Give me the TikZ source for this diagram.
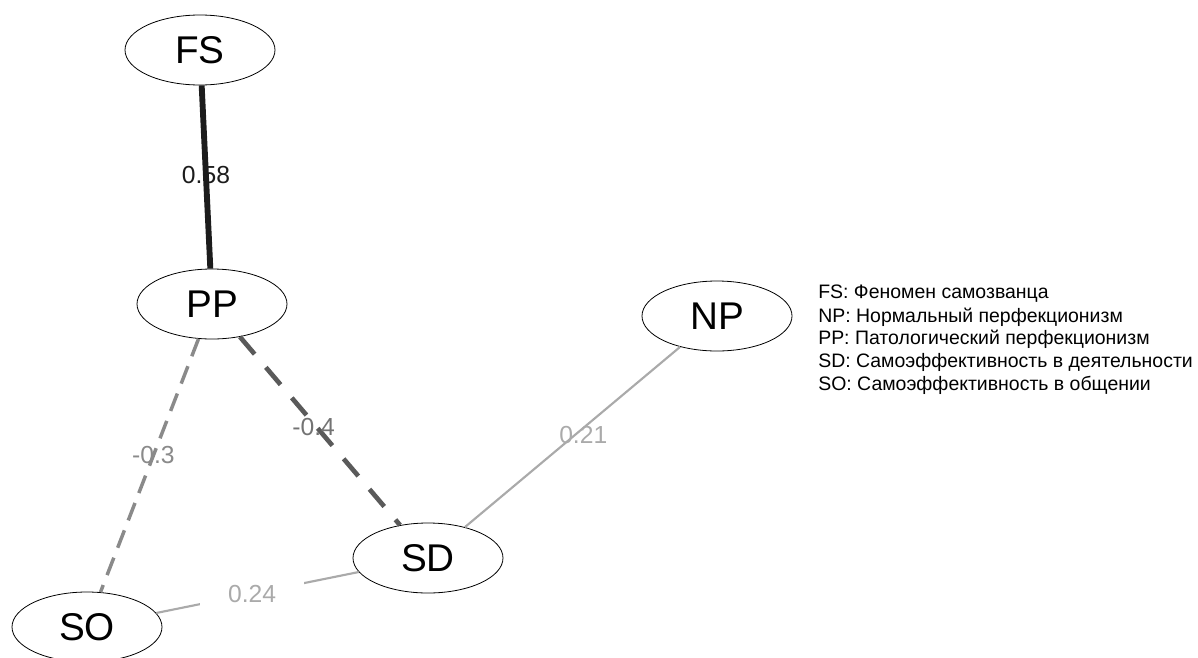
\documentclass[tikz,border=0pt]{standalone}
\usepackage{fontspec}
\setmainfont{Liberation Sans}
\usetikzlibrary{shapes.geometric}
\definecolor{strong}{RGB}{28,28,28}
\definecolor{negdark}{RGB}{90,90,90}
\definecolor{negmid}{RGB}{138,138,138}
\definecolor{weak}{RGB}{170,170,170}
\tikzset{
  qnode/.style={ellipse,draw=black,line width=0.6pt,minimum width=112.5pt,
    minimum height=52.5pt,inner sep=0pt,font=\fontsize{29}{32}\selectfont},
  qstrong/.style={strong,line width=4.4pt},
  qnegA/.style={negdark,line width=3.5pt,dash pattern=on 17pt off 13pt},
  qnegB/.style={negmid,line width=2.6pt,dash pattern=on 14pt off 8pt},
  qweak/.style={weak,line width=1.6pt},
  qlab/.style={font=\fontsize{18.5}{20}\selectfont,inner sep=1pt},
}
\begin{document}
\begin{tikzpicture}[x=0.75pt,y=-0.75pt]
  \useasboundingbox (0,0) rectangle (1198,657);
  \node[qnode] (FS) at (200,50) {FS};
  \node[qnode] (PP) at (212,304) {PP};
  \node[qnode] (NP) at (717,316) {NP};
  \node[qnode] (SD) at (428,558) {SD};
  \node[qnode] (SO) at (87,627) {SO};
  \draw[qstrong] (FS) -- node[qlab,text=strong,yshift=1.5pt] (l58) {0.58} (PP);
  \draw[qnegB] (PP) -- node[qlab,text=negmid,pos=0.46] (l30) {-0.3} (SO);
  \draw[qnegA] (PP) -- node[qlab,text=negdark!85!white,pos=0.46,yshift=-3pt] (l40) {-0.4} (SD);
  \draw[qweak] (NP) -- node[qlab,text=weak,pos=0.45,yshift=-5pt] (l21) {0.21} (SD);
  \draw[qweak] (SD) -- node[qlab,text=weak,fill=white,minimum width=78pt,
    minimum height=20pt,xshift=-4pt,yshift=-1pt] (l24) {0.24} (SO);
  % legend
  \foreach \txt [count=\i] in {FS: Феномен самозванца,
      NP: Нормальный перфекционизм,PP: Патологический перфекционизм,
      SD: Самоэффективность в деятельности,SO: Самоэффективность в общении}
    \node[anchor=west,inner sep=0pt,font=\fontsize{14.6}{16}\selectfont]
      (leg\i) at (818,{294+22.8*(\i-1)}) {\txt};
\end{tikzpicture}
\end{document}
